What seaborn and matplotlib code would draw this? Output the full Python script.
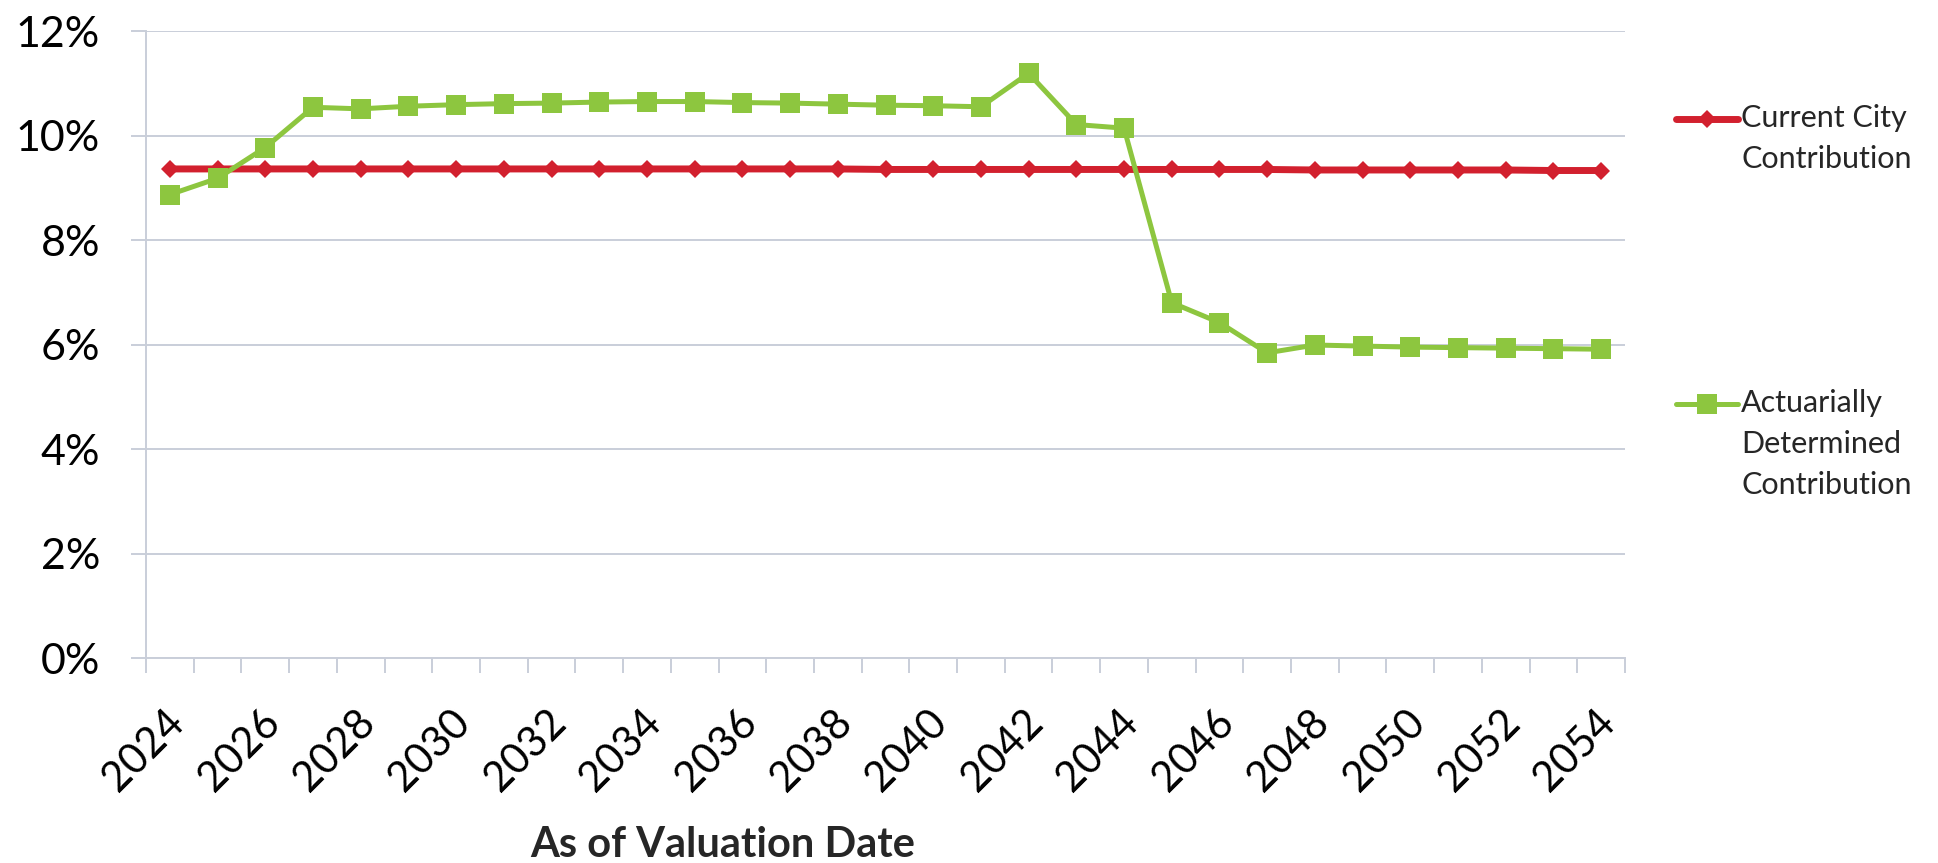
import numpy as np
import pandas as pd
import matplotlib
matplotlib.use("Agg")
import matplotlib.pyplot as plt
import matplotlib.transforms as mtransforms
from matplotlib.legend_handler import HandlerLine2D
from matplotlib.ticker import PercentFormatter, FixedLocator
import seaborn as sns

years = list(range(2024, 2055))

# contribution rates in percent of payroll
current_city = [9.36, 9.36, 9.36, 9.36, 9.36, 9.36, 9.36, 9.36, 9.36, 9.36,
                9.36, 9.36, 9.36, 9.36, 9.36, 9.35, 9.35, 9.35, 9.35, 9.35,
                9.35, 9.35, 9.35, 9.35, 9.34, 9.34, 9.34, 9.34, 9.34, 9.33, 9.33]
actuarial = [8.87, 9.18, 9.77, 10.54, 10.51, 10.56, 10.59, 10.61, 10.62, 10.64,
             10.65, 10.65, 10.63, 10.62, 10.60, 10.58, 10.57, 10.55, 11.19, 10.21,
             10.14, 6.80, 6.42, 5.84, 5.99, 5.97, 5.95, 5.94, 5.93, 5.92, 5.91]

label_city = "Current City\nContribution"
label_adc = "Actuarially\nDetermined\nContribution"
xlabel = "As of Valuation Date"
ytick_vals = [0, 2, 4, 6, 8, 10, 12]

df = pd.DataFrame({"year": years, "city": current_city, "adc": actuarial})

sns.set_theme(style="white")
plt.rcParams["font.family"] = ["Lato", "DejaVu Sans"]

red = "#D2202E"
green = "#8DC63F"
grid = "#C9CED9"


class RaisedLine(HandlerLine2D):
    # legend handle sits on the first text line instead of the middle
    def __init__(self, lift, **kw):
        super().__init__(**kw)
        self.lift = lift

    def create_artists(self, legend, orig_handle, xdescent, ydescent, width, height, fontsize, trans):
        return super().create_artists(legend, orig_handle, xdescent, ydescent - 2 * self.lift,
                                      width, height, fontsize, trans)


fig = plt.figure(figsize=(19.38, 8.63), dpi=100)
ax = fig.add_axes([146 / 1938, 1 - 658 / 863, (1625 - 146) / 1938, (658 - 31) / 863])

sns.lineplot(data=df, x="year", y="city", ax=ax, color=red, lw=5,
             marker="D", markersize=9, markeredgewidth=0, label=label_city, legend=False)
sns.lineplot(data=df, x="year", y="adc", ax=ax, color=green, lw=3.6,
             marker="s", markersize=14, markeredgewidth=0, label=label_adc, legend=False)

ax.set_xlim(years[0] - 0.5, years[-1] + 0.5)
ax.set_ylim(0, 12)
ax.yaxis.set_major_locator(FixedLocator(ytick_vals))
ax.yaxis.set_major_formatter(PercentFormatter(decimals=0))
ax.set_xticks(years[::2])
ax.set_xticks([y - 0.5 for y in years] + [years[-1] + 0.5], minor=True)

ax.yaxis.grid(True, color=grid, lw=1.4)
ax.set_axisbelow(True)
for s in ["top", "right"]:
    ax.spines[s].set_visible(False)
for s in ["left", "bottom"]:
    ax.spines[s].set_color(grid)
    ax.spines[s].set_linewidth(1.4)

ax.tick_params(axis="y", which="major", left=True, length=11, width=1.4, color=grid,
               pad=22, labelsize=31, labelcolor="black")
ax.tick_params(axis="x", which="major", bottom=True, length=0, pad=42,
               labelsize=30, labelcolor="black")
ax.tick_params(axis="x", which="minor", bottom=True, length=11, width=1.4, color=grid)
shift = mtransforms.ScaledTranslation(0.08, 0, fig.dpi_scale_trans)
for t in ax.get_xticklabels():
    t.set_rotation(45)
    t.set_ha("right")
    t.set_va("center")
    t.set_rotation_mode("anchor")
    t.set_transform(t.get_transform() + shift)

ax.set_ylabel("")
ax.set_xlabel(xlabel, fontsize=30, fontweight="bold", va="center")
ax.xaxis.set_label_coords(0.39, -0.298)

h = ax.get_lines()
leg_kw = dict(loc="upper left", bbox_transform=fig.transFigure, frameon=False, fontsize=22,
              handlelength=2.03, handletextpad=0.1, borderpad=0, borderaxespad=0)
leg1 = ax.legend(handles=[h[0]], labels=[label_city], bbox_to_anchor=(1676 / 1938, 1 - 104 / 863),
                 handler_map={h[0]: RaisedLine(14.7)}, **leg_kw)
for t in leg1.get_texts():
    t.set_linespacing(1.56)
ax.add_artist(leg1)
leg2 = ax.legend(handles=[h[1]], labels=[label_adc], bbox_to_anchor=(1676 / 1938, 1 - 389 / 863),
                 handler_map={h[1]: RaisedLine(29.4)}, **leg_kw)
for t in leg2.get_texts():
    t.set_linespacing(1.56)

fig.savefig("out.png", dpi=100)
